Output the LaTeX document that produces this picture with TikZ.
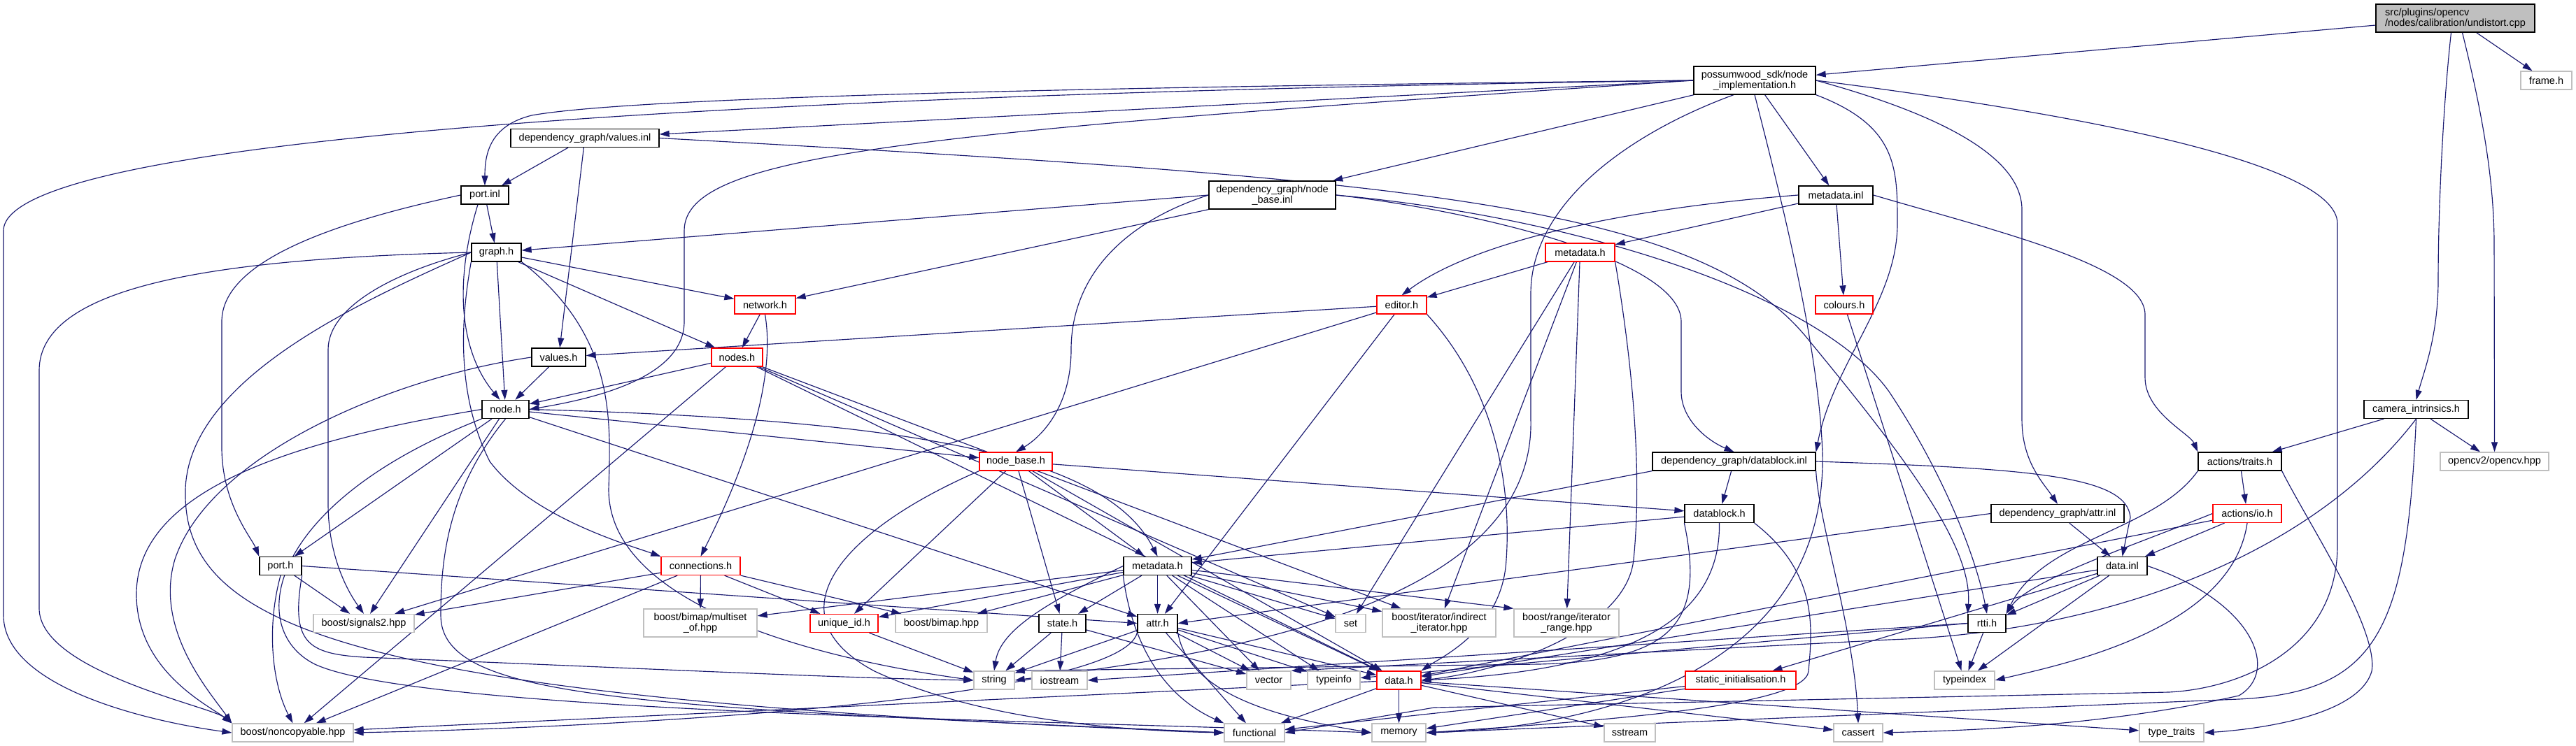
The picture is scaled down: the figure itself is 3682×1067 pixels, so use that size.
\documentclass[tikz,border=0pt]{standalone}
\usepackage{fontspec}
\setmainfont{Liberation Sans}
\usetikzlibrary{arrows.meta}
\definecolor{edgec}{HTML}{191970}
\definecolor{grayb}{HTML}{BFBFBF}
\pgfdeclarelayer{edgelayer}
\pgfsetlayers{edgelayer,main}
\tikzset{
  nb/.style={draw=black, line width=1.3pt, fill=white, inner sep=0pt, align=center,
    font=\fontsize{14.5}{15}\selectfont, minimum height=26pt},
  nr/.style={nb, draw=red},
  ng/.style={nb, draw=grayb},
  nroot/.style={nb, fill=grayb},
  e/.style={draw=edgec, line width=1.15pt, -{Triangle[length=14pt,width=9pt]}}
}
\begin{document}
\begin{tikzpicture}[x=1pt,y=-1pt]
\useasboundingbox (0,0) rectangle (3682,1067);
% ---------- nodes ----------
\node[nroot, minimum width=227pt, minimum height=40pt, align=left] (U) at (3509.5,26) {src/plugins/opencv\\/nodes/calibration/undistort.cpp};
\node[ng, minimum width=73pt] (FR) at (3639.5,115) {frame.h};
\node[nb, minimum width=174pt, minimum height=40pt] (PW) at (2508,115) {possumwood\_sdk/node\\\_implementation.h};
\node[nb, minimum width=212pt] (VI) at (836,197.5) {dependency\_graph/values.inl};
\node[nb, minimum width=68pt] (PI) at (693,279) {port.inl};
\node[nb, minimum width=181pt, minimum height=40pt] (NBI) at (1818.5,279) {dependency\_graph/node\\\_base.inl};
\node[nb, minimum width=106pt] (MI) at (2624,279) {metadata.inl};
\node[nb, minimum width=71pt] (G) at (709.5,361) {graph.h};
\node[nr, minimum width=99pt] (MHa) at (2258.5,361) {metadata.h};
\node[nr, minimum width=87pt] (NW) at (1093.5,436) {network.h};
\node[nr, minimum width=71pt] (ED) at (2003.5,436) {editor.h};
\node[nr, minimum width=82pt] (CO) at (2636,436) {colours.h};
\node[nr, minimum width=73pt] (NS) at (1053.5,511) {nodes.h};
\node[nb, minimum width=77pt] (VH) at (798.5,511) {values.h};
\node[nb, minimum width=67pt] (N) at (722.5,585.5) {node.h};
\node[nb, minimum width=149pt] (CI) at (3453.5,585.5) {camera\_intrinsics.h};
\node[nr, minimum width=104pt] (NB) at (1452,660) {node\_base.h};
\node[nb, minimum width=233pt] (DBI) at (2478.5,660) {dependency\_graph/datablock.inl};
\node[nb, minimum width=119pt] (TR) at (3201.5,660) {actions/traits.h};
\node[ng, minimum width=155pt] (CV) at (3565.5,660) {opencv2/opencv.hpp};
\node[nb, minimum width=99pt] (DB) at (2457.5,734.5) {datablock.h};
\node[nb, minimum width=190pt] (AI) at (2941,734.5) {dependency\_graph/attr.inl};
\node[nr, minimum width=98pt] (IO) at (3212,734.5) {actions/io.h};
\node[nb, minimum width=60pt] (P) at (401,809.5) {port.h};
\node[nr, minimum width=113pt] (CN) at (1001.5,809.5) {connections.h};
\node[nb, minimum width=97pt] (MHb) at (1654.5,809.5) {metadata.h};
\node[nb, minimum width=71pt] (DI) at (3033.5,809.5) {data.inl};
\node[ng, minimum width=144pt] (SG) at (520,891.5) {boost/signals2.hpp};
\node[ng, minimum width=162pt, minimum height=40pt] (MS) at (1001,891) {boost/bimap/multiset\\\_of.hpp};
\node[nr, minimum width=97pt] (UID) at (1206.5,891.5) {unique\_id.h};
\node[ng, minimum width=131pt] (BM) at (1345.5,891.5) {boost/bimap.hpp};
\node[nb, minimum width=67pt] (ST) at (1518.5,891.5) {state.h};
\node[nb, minimum width=57pt] (AT) at (1654.5,891.5) {attr.h};
\node[ng, minimum width=43pt] (SET) at (1930.5,891.5) {set};
\node[ng, minimum width=162pt, minimum height=40pt] (II) at (2057,891) {boost/iterator/indirect\\\_iterator.hpp};
\node[ng, minimum width=150pt, minimum height=40pt] (RG) at (2239,891) {boost/range/iterator\\\_range.hpp};
\node[nb, minimum width=54pt] (RT) at (2840,891.5) {rtti.h};
\node[ng, minimum width=58pt] (STR) at (1421,973) {string};
\node[ng, minimum width=79pt] (IOS) at (1514.5,973) {iostream};
\node[ng, minimum width=63pt] (VEC) at (1813.5,973) {vector};
\node[ng, minimum width=75pt] (TI) at (1906.5,973) {typeinfo};
\node[nr, minimum width=63pt] (DH) at (1999.5,973) {data.h};
\node[nr, minimum width=158pt] (SI) at (2488,973) {static\_initialisation.h};
\node[ng, minimum width=86pt] (TX) at (2808,973) {typeindex};
\node[ng, minimum width=173pt] (NC) at (418.5,1048) {boost/noncopyable.hpp};
\node[ng, minimum width=86pt] (FN) at (1793,1048) {functional};
\node[ng, minimum width=77pt] (MEM) at (1999.5,1048) {memory};
\node[ng, minimum width=73pt] (SS) at (2329.5,1048) {sstream};
\node[ng, minimum width=70pt] (CA) at (2656,1048) {cassert};
\node[ng, minimum width=92pt] (TT) at (3104,1048) {type\_traits};
% ---------- edges ----------
\begin{pgfonlayer}{edgelayer}
\fill[white] (0,0) rectangle (3682,1067);
% root
\draw[e] (U) -- (PW);
\draw[e] (U) -- (FR);
\draw[e] ([xshift=-6pt]U.south) .. controls (3492,150) and (3485,300) .. (3485,400) .. controls (3485,480) and (3465,530) .. (CI.north);
\draw[e] ([xshift=10pt]U.south) .. controls (3545,150) and (3565,250) .. (3565,350) -- (CV.north);
% possumwood
\draw[e] (PW.west) -- (VI);
\draw[e] (PW.west) .. controls (1500,125) and (900,140) .. (760,165) .. controls (700,180) and (693,220) .. (PI.north);
\draw[e] (PW) -- (NBI);
\draw[e] (PW) -- (MI);
\draw[e] (PW.west) .. controls (1300,190) and (978,220) .. (978,330) -- (978,460) .. controls (978,540) and (850,570) .. (N.east);
\draw[e] (PW.west) .. controls (1000,135) and (5,200) .. (5,330) -- (5,880) .. controls (5,980) and (200,1030) .. (NC.west);
\draw[e] (PW.south east) .. controls (2712,180) and (2712,240) .. (2712,320) .. controls (2712,430) and (2620,520) .. (DBI.north east);
\draw[e] (PW.east) .. controls (2760,160) and (2890,220) .. (2890,300) -- (2890,600) .. controls (2890,660) and (2920,690) .. (AI.north);
\draw[e] (PW.east) .. controls (2950,160) and (3341,230) .. (3341,320) -- (3341,780) .. controls (3341,930) and (3200,985) .. (3100,990) -- (2050,1012) -- (FN.east);
\draw[e] ([xshift=-30pt]PW.south) .. controls (2330,190) and (2188,290) .. (2188,420) -- (2188,600) .. controls (2195,880) and (1700,940) .. (STR.east);
\draw[e] (PW.south) .. controls (2550,300) and (2600,500) .. (2605,650) .. controls (2610,950) and (2300,1040) .. (MEM.east);
% values.inl
\draw[e] (VI) -- (PI);
\draw[e] (VI) -- (VH);
\draw[e] (VI.east) .. controls (2000,255) and (2420,290) .. (2580,480) .. controls (2720,650) and (2820,780) .. (RT.north west);
% port.inl
\draw[e] (PI) -- (G);
\draw[e] ([xshift=-10pt]PI.south) .. controls (650,400) and (655,500) .. ([xshift=-8pt]N.north);
\draw[e] (PI.west) .. controls (420,330) and (317,390) .. (317,460) -- (317,640) .. controls (317,720) and (360,770) .. (P.north west);
% node_base.inl
\draw[e] (NBI.west) -- (G);
\draw[e] (NBI.south west) -- (NW);
\draw[e] (NBI.west) .. controls (1600,320) and (1531,400) .. (1531,500) .. controls (1531,590) and (1480,630) .. (NB.north);
\draw[e] (NBI.east) .. controls (2100,300) and (2403,370) .. (2403,460) -- (2403,560) .. controls (2403,600) and (2440,630) .. (DBI.north);
\draw[e] (NBI.east) .. controls (2250,310) and (2600,420) .. (2700,560) .. controls (2780,680) and (2825,800) .. (RT.north);
% metadata.inl
\draw[e] (MI) -- (MHa);
\draw[e] (MI.west) .. controls (2300,300) and (2100,350) .. (ED.north);
\draw[e] (MI) -- (CO);
\draw[e] (MI.east) .. controls (2850,330) and (3066,380) .. (3066,450) -- (3066,540) .. controls (3066,590) and (3130,620) .. (TR.north west);
% graph.h
\draw[e] (G) -- (NW);
\draw[e] (G) -- (NS);
\draw[e] (G) -- (N);
\draw[e] (G.south west) .. controls (660,450) and (650,560) .. (700,660) .. controls (760,740) and (900,780) .. (CN.north west);
\draw[e] (G.west) .. controls (300,370) and (56,410) .. (56,530) -- (56,870) .. controls (56,960) and (300,1010) .. (NC.north west);
\draw[e] (G.west) .. controls (560,390) and (469,440) .. (469,500) -- (469,720) .. controls (469,800) and (500,850) .. (SG.north);
\draw[e] (G.west) .. controls (520,430) and (270,540) .. (265,700) .. controls (260,900) and (500,1000) .. (FN.west);
\draw[e] (G.south east) .. controls (880,480) and (873,600) .. (870,700) .. controls (870,900) and (1300,960) .. (STR.west);
% metadata.h (upper)
\draw[e] (MHa) -- (ED);
\draw[e] (MHa) -- (SET);
\draw[e] (MHa) -- (II);
\draw[e] (MHa) -- (RG);
\draw[e] (MHa.south east) .. controls (2340,560) and (2345,700) .. (2335,800) .. controls (2325,900) and (2150,960) .. (DH.east);
% network.h
\draw[e] (NW) -- (NS);
\draw[e] (NW.south) .. controls (1102,500) and (1100,600) .. (CN.north);
% editor.h
\draw[e] (ED) -- (VH);
\draw[e] (ED) -- (SG);
\draw[e] (ED) -- (AT);
\draw[e] (ED.south east) .. controls (2140,560) and (2160,700) .. (2153,800) .. controls (2148,900) and (2060,940) .. (DH.north east);
% colours.h
\draw[e] (CO) -- (TX);
% nodes.h
\draw[e] (NS) -- (N);
\draw[e] (NS) -- (NC);
\draw[e] (NS) -- (SET);
\draw[e] (NS) -- (II);
\draw[e] (NS) -- (DH);
% values.h
\draw[e] (VH) -- (N);
\draw[e] (VH.west) .. controls (560,540) and (300,650) .. (250,800) .. controls (220,900) and (300,990) .. (NC.north west);
% node.h
\draw[e] (N) -- (P);
\draw[e] (N) -- (SG);
\draw[e] (N) -- (NB);
\draw[e] (N.east) .. controls (1300,600) and (1580,650) .. (MHb.north);
\draw[e] (N) -- (AT);
\draw[e] (N.west) .. controls (420,630) and (195,700) .. (195,850) .. controls (195,960) and (300,1010) .. (NC.north west);
\draw[e] (N.south) .. controls (640,700) and (630,800) .. (630,880) .. controls (630,1000) and (900,1010) .. (FN.west);
\draw[e] (N.south west) .. controls (380,720) and (350,900) .. (450,950) .. controls (600,1020) and (1500,1030) .. (MEM.west);
% camera_intrinsics.h
\draw[e] (CI) -- (TR);
\draw[e] (CI) -- (CV);
\draw[e] (CI.south) .. controls (3300,800) and (3000,905) .. (2700,915) -- (VEC.north east);
\draw[e] (CI.south) .. controls (3440,900) and (3400,990) .. (3200,1000) -- (MEM.east);
% node_base.h
\draw[e] (NB) -- (DB);
\draw[e] (NB) -- (MHb);
\draw[e] (NB) -- (ST);
\draw[e] (NB) -- (UID);
\draw[e] (NB) -- (DH);
\draw[e] (NB.south west) .. controls (1200,760) and (1100,880) .. (1250,960) .. controls (1400,1030) and (1600,1045) .. (FN.west);
% datablock.inl
\draw[e] (DBI) -- (DB);
\draw[e] (DBI.south west) -- (MHb);
\draw[e] (DBI.east) .. controls (2900,670) and (3040,680) .. (3045,740) -- (DI.north);
\draw[e] (DBI.south east) .. controls (2600,750) and (2650,900) .. (CA.north);
% traits.h
\draw[e] (TR) -- (IO);
\draw[e] (TR.south west) .. controls (3080,760) and (2920,770) .. (RT.north east);
\draw[e] (TR.south east) .. controls (3300,750) and (3400,900) .. (3390,960) .. controls (3370,1030) and (3200,1045) .. (TT.east);
% datablock.h
\draw[e] (DB) -- (MHb);
\draw[e] (DB.south) .. controls (2460,900) and (2300,960) .. (DH.east);
\draw[e] (DB.south east) .. controls (2600,820) and (2590,900) .. (2585,960) .. controls (2580,1010) and (2300,1030) .. (MEM.east);
\draw[e] (DB.south west) .. controls (2440,900) and (2380,945) .. (2200,950) -- (STR.north east);
% attr.inl
\draw[e] (AI) -- (DI);
\draw[e] (AI.west) -- (AT.east);
% io.h
\draw[e] (IO) -- (DI);
\draw[e] (IO.west) .. controls (3050,780) and (2900,830) .. (RT.north east);
\draw[e] (IO.south) .. controls (3190,900) and (2950,950) .. (TX.east);
\draw[e] (IO) -- (DH);
% port.h
\draw[e] (P) -- (SG);
\draw[e] (P.south) .. controls (380,900) and (390,980) .. (NC.north);
\draw[e] (P.east) -- (AT.west);
\draw[e] (P.south east) .. controls (415,920) and (440,935) .. (520,940) .. controls (900,955) and (1200,970) .. (STR.west);
% connections.h
\draw[e] (CN) -- (SG);
\draw[e] (CN) -- (NC);
\draw[e] (CN) -- (MS);
\draw[e] (CN) -- (UID);
\draw[e] (CN) -- (BM);
% metadata.h (lower)
\draw[e] (MHb) -- (MS);
\draw[e] (MHb) -- (UID);
\draw[e] (MHb) -- (BM);
\draw[e] (MHb) -- (ST);
\draw[e] (MHb) -- (AT);
\draw[e] (MHb) -- (SET);
\draw[e] (MHb) -- (II);
\draw[e] (MHb) -- (RG.north west);
\draw[e] (MHb.west) .. controls (1500,860) and (1430,900) .. (STR.north);
\draw[e] (MHb) -- (VEC);
\draw[e] (MHb) -- (TI);
\draw[e] (MHb) -- (DH);
\draw[e] (MHb.south west) .. controls (1615,900) and (1650,990) .. (FN.north west);
% data.inl
\draw[e] (DI) -- (RT);
\draw[e] (DI) -- (DH);
\draw[e] (DI) -- (TX);
\draw[e] (DI) -- (SI);
\draw[e] (DI.east) .. controls (3220,860) and (3260,960) .. (3200,995) .. controls (3000,1040) and (2800,1045) .. (CA.east);
% unique_id.h, state.h
\draw[e] (UID) -- (STR);
\draw[e] (ST) -- (STR);
\draw[e] (ST) -- (IOS);
\draw[e] (ST) -- (VEC);
% attr.h
\draw[e] (AT) -- (STR);
\draw[e] (AT) -- (DH);
\draw[e] (AT) -- (VEC);
\draw[e] (AT) -- (TI);
\draw[e] (AT) -- (FN);
\draw[e] (AT.south east) .. controls (1700,1000) and (1850,1030) .. (MEM.west);
\draw[e] (AT.south west) .. controls (1600,1000) and (900,1040) .. (NC.east);
% rtti.h
\draw[e] (RT) -- (TX);
\draw[e] (RT.west) -- (IOS.east);
\draw[e] (RT.west) -- (TI);
% data.h
\draw[e] (DH) -- (NC);
\draw[e] (DH) -- (FN);
\draw[e] (DH) -- (MEM);
\draw[e] (DH) -- (SS);
\draw[e] (DH) -- (CA);
\draw[e] (DH) -- (TT);
% static_initialisation.h
\draw[e] (SI) -- (FN);
\draw[e] (SI) -- (MEM);
\end{pgfonlayer}
\end{tikzpicture}
\end{document}
